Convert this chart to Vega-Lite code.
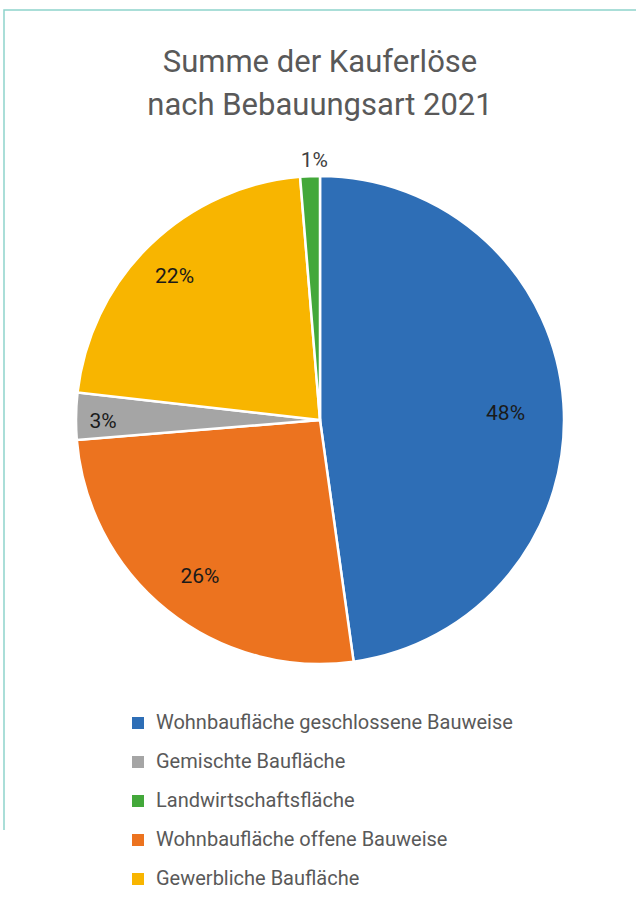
{
  "$schema": "https://vega.github.io/schema/vega-lite/v6.json",
  "width": 632,
  "height": 820,
  "autosize": {"type": "none"},
  "padding": {"left": 4, "top": 10, "right": 0, "bottom": 80},
  "background": "white",
  "view": {"stroke": "#8fd3cc", "strokeWidth": 1.5, "strokeDash": [632, 1452, 820]},
  "title": {
    "text": ["Summe der Kauferlöse", "nach Bebauungsart 2021"],
    "orient": "top",
    "anchor": "middle",
    "offset": -143,
    "baseline": "bottom",
    "font": "Roboto",
    "fontSize": 31,
    "fontWeight": "normal",
    "color": "#595959",
    "lineHeight": 43
  },
  "config": {
    "font": "Roboto"
  },
  "data": {
    "values": [
      {"kategorie": "Wohnbaufläche geschlossene Bauweise", "anteil": 47.8, "reihe": 1, "label": "48%"},
      {"kategorie": "Wohnbaufläche offene Bauweise", "anteil": 25.9, "reihe": 2, "label": "26%"},
      {"kategorie": "Gemischte Baufläche", "anteil": 3.1, "reihe": 3, "label": "3%"},
      {"kategorie": "Gewerbliche Baufläche", "anteil": 21.9, "reihe": 4, "label": "22%"},
      {"kategorie": "Landwirtschaftsfläche", "anteil": 1.3, "reihe": 5, "label": "1%"}
    ]
  },
  "encoding": {
    "theta": {"field": "anteil", "type": "quantitative", "stack": true},
    "order": {"field": "reihe", "type": "quantitative"},
    "detail": {"field": "kategorie", "type": "nominal"}
  },
  "layer": [
    {
      "mark": {"type": "arc", "outerRadius": 244, "stroke": "white", "strokeWidth": 2.5},
      "encoding": {
        "color": {
          "field": "kategorie",
          "type": "nominal",
          "scale": {
            "domain": ["Wohnbaufläche geschlossene Bauweise", "Gemischte Baufläche", "Landwirtschaftsfläche", "Wohnbaufläche offene Bauweise", "Gewerbliche Baufläche"],
            "range": ["#2e6eb6", "#a5a5a5", "#43a83a", "#ec731f", "#f8b500"]
          },
          "legend": {
            "title": null,
            "orient": "none",
            "legendX": 124,
            "legendY": 703,
            "padding": 0,
            "symbolType": "square",
            "symbolSize": 144,
            "symbolStrokeWidth": 0,
            "labelFont": "Roboto",
            "labelFontSize": 20,
            "labelColor": "#595959",
            "labelOffset": 8,
            "rowPadding": 19,
            "labelLimit": 500
          }
        }
      }
    },
    {
      "mark": {"type": "text", "fontSize": 21, "font": "Roboto", "radius": 186, "dy": 7, "color": "#1a1a1a"},
      "encoding": {
        "text": {"condition": {"test": "datum.reihe == 1", "field": "label"}, "value": ""}
      }
    },
    {
      "mark": {"type": "text", "fontSize": 21, "font": "Roboto", "radius": 192, "dy": 7, "color": "#1a1a1a"},
      "encoding": {
        "text": {"condition": {"test": "datum.reihe == 2", "field": "label"}, "value": ""}
      }
    },
    {
      "mark": {"type": "text", "fontSize": 21, "font": "Roboto", "radius": 209, "dy": 7, "color": "#1a1a1a"},
      "encoding": {
        "text": {"condition": {"test": "datum.reihe == 4", "field": "label"}, "value": ""}
      }
    },
    {
      "mark": {"type": "text", "fontSize": 21, "font": "Roboto", "radius": 217, "dy": 5, "color": "#1a1a1a"},
      "encoding": {
        "text": {"condition": {"test": "datum.reihe == 3", "field": "label"}, "value": ""}
      }
    },
    {
      "mark": {"type": "text", "fontSize": 21, "font": "Roboto", "radius": 262, "dy": 3, "dx": 5, "color": "#404040"},
      "encoding": {
        "text": {"condition": {"test": "datum.reihe == 5", "field": "label"}, "value": ""}
      }
    }
  ]
}
